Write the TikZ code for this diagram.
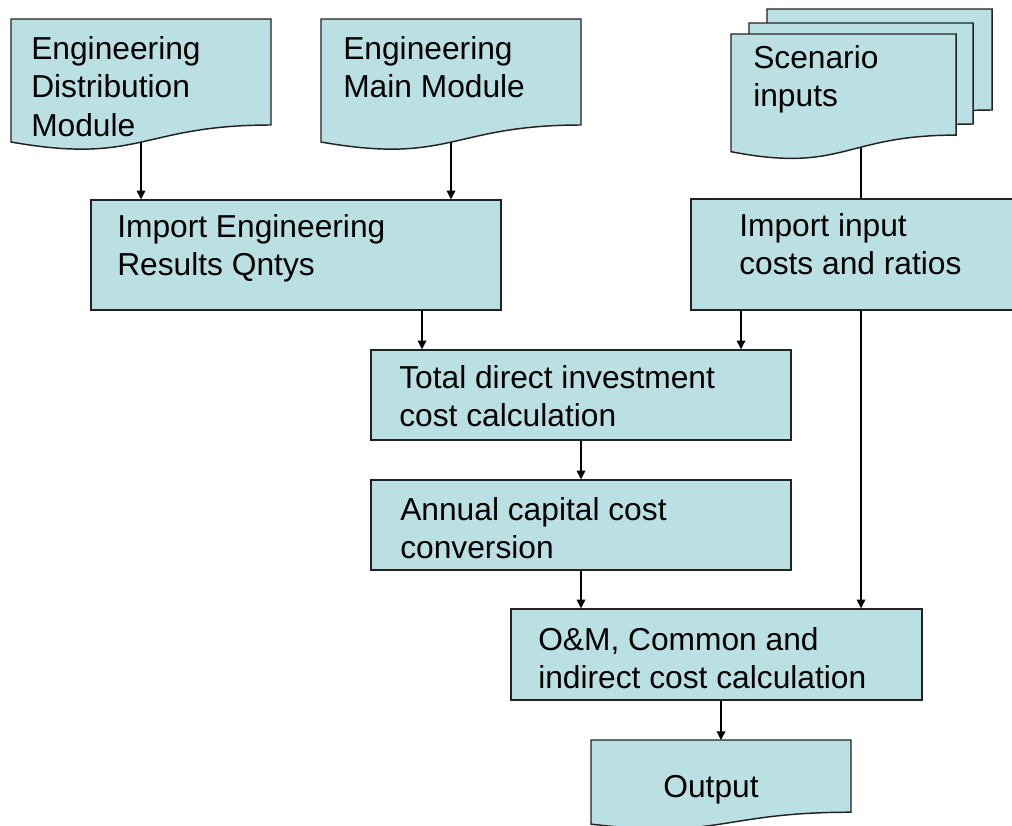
\documentclass[tikz,border=0pt]{standalone}
\usepackage{fontspec}
\setmainfont{Liberation Sans}
\usetikzlibrary{arrows.meta}

\definecolor{boxfill}{RGB}{187,224,227}
\definecolor{boxline}{RGB}{34,34,34}

\tikzset{
  box/.style={draw=boxline, fill=boxfill, line width=1.1pt, inner sep=0pt},
  doc/.style={draw=boxline, fill=boxfill, line width=1.1pt},
  txt/.style={align=left, inner sep=0pt, font=\fontsize{23.8}{28.9}\selectfont},
  link/.style={line width=0.9pt, draw=black},
  arr/.style={link, -{Triangle[length=6.5pt,width=6.5pt]}},
}

\begin{document}
\begin{tikzpicture}[x=0.75pt,y=0.75pt,yscale=-1,xscale=1]
\useasboundingbox (0,0) rectangle (1012,825);

%Shape: Document [id:dist] 
\draw [doc] (11,19) -- (271,19) -- (271,125) .. controls (141,125) and (141,165) .. (11,142) -- cycle ;
%Shape: Document [id:main] 
\draw [doc] (321,19) -- (581,19) -- (581,125) .. controls (451,125) and (451,165) .. (321,142) -- cycle ;
%Shape: Multidocument [id:scen] 
\draw [doc] (767,9) -- (992,9) -- (992,110) .. controls (879.5,110) and (879.5,148.5) .. (767,126.7) -- cycle ;
\draw [doc] (749,23) -- (973,23) -- (973,124) .. controls (861,124) and (861,162.5) .. (749,140.7) -- cycle ;
\draw [doc] (731,34) -- (956,34) -- (956,135.1) .. controls (843.5,135.1) and (843.5,173.5) .. (731,151.7) -- cycle ;
%Shape: Document [id:output] 
\draw [doc] (591,740) -- (851,740) -- (851,812.2) .. controls (721,812.2) and (721,839.7) .. (591,824.1) -- cycle ;

%Shape: Rectangle [id:impeng] 
\node [box, minimum width=307.5pt, minimum height=82.5pt] (impeng) at (296,255) {};
%Shape: Rectangle [id:impin] 
\node [box, minimum width=243.75pt, minimum height=83.25pt] (impin) at (853.5,254.5) {};
%Shape: Rectangle [id:direct] 
\node [box, minimum width=315pt, minimum height=67.5pt] (direct) at (581,395) {};
%Shape: Rectangle [id:annual] 
\node [box, minimum width=315pt, minimum height=67.5pt] (annual) at (581,525) {};
%Shape: Rectangle [id:om] 
\node [box, minimum width=308.25pt, minimum height=68.25pt] (om) at (716.5,654.5) {};

% ends of the connectors
\coordinate (distend) at (141,142);
\coordinate (mainend) at (451,142);
\coordinate (scenend) at (861,148);
\coordinate (engout) at (422,310);
\coordinate (inout) at (741,310);
\coordinate (outtop) at (721,740);

%Straight Lines
\draw [arr] (distend) -- (distend |- impeng.north) ;
\draw [arr] (mainend) -- (mainend |- impeng.north) ;
\draw [link] (scenend) -- (scenend |- impin.north) ;
\draw [arr] (scenend |- impin.south) -- (scenend |- om.north) ;
\draw [arr] (engout) -- (engout |- direct.north) ;
\draw [arr] (inout) -- (inout |- direct.north) ;
\draw [arr] (direct) -- (annual) ;
\draw [arr] (annual.south) -- (annual.south |- om.north) ;
\draw [arr] (om.south -| outtop) -- (outtop) ;

% Text Node
\node [txt, anchor=north west] (disttxt) at (31,36) {Engineering\\Distribution\\Module};
% Text Node
\node [txt, anchor=north west] (maintxt) at (343,36) {Engineering\\Main Module};
% Text Node
\node [txt, anchor=north west] (scentxt) at (753,45) {Scenario\\inputs};
% Text Node
\node [txt, anchor=north west] (impengtxt) at (117,214) {Import Engineering\\Results Qntys};
% Text Node
\node [txt, anchor=north west] (impintxt) at (739,213) {Import input\\costs and ratios};
% Text Node
\node [txt, anchor=north west] (directtxt) at (399,365) {Total direct investment\\cost calculation};
% Text Node
\node [txt, anchor=north west] (annualtxt) at (400,497) {Annual capital cost\\conversion};
% Text Node
\node [txt, anchor=north west] (omtxt) at (538,627) {O\&M, Common and\\indirect cost calculation};
% Text Node
\node [txt, anchor=north] (outtxt) at (711,775) {Output};

\end{tikzpicture}
\end{document}
